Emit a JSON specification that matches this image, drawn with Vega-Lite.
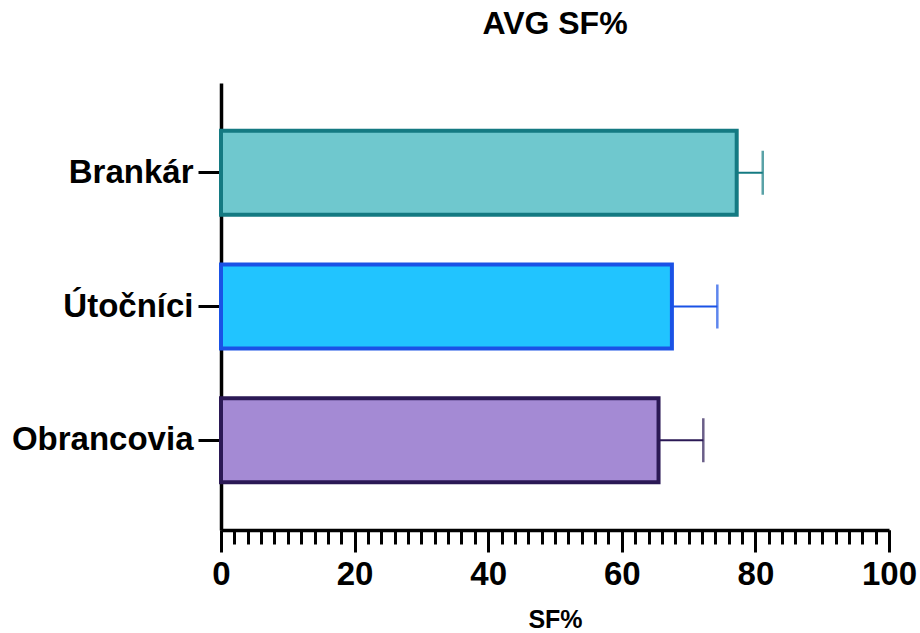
{
  "$schema": "https://vega.github.io/schema/vega-lite/v6.json",
  "width": 668,
  "height": 447,
  "autosize": "none",
  "padding": {"left": 221, "top": 83, "right": 31, "bottom": 103},
  "background": "white",
  "config": {
    "view": {"stroke": null},
    "font": "Liberation Sans",
    "axisX": {
      "titleFont": "Liberation Sans", "titleFontSize": 25, "titleFontWeight": "bold", "titleColor": "black", "titlePadding": 16,
      "labelOverlap": false, "labelFlush": false, "tickWidth": 3, "tickColor": "black", "domainColor": "black", "domainWidth": 3.5,
      "labelFont": "Liberation Sans", "labelFontSize": 33, "labelFontWeight": "bold", "labelColor": "black", "labelPadding": 6, "grid": false
    }
  },
  "title": {"text": "AVG SF%", "font": "Liberation Sans", "fontSize": 32, "fontWeight": "bold", "anchor": "middle", "color": "black", "offset": 42},
  "data": {"values": [
    {"position": "Brankár", "sf": 77.2, "upper": 81.1},
    {"position": "Útočníci", "sf": 67.5, "upper": 74.3},
    {"position": "Obrancovia", "sf": 65.5, "upper": 72.2}
  ]},
  "resolve": {"axis": {"x": "independent"}},
  "encoding": {
    "y": {
      "field": "position", "type": "nominal",
      "sort": ["Brankár", "Útočníci", "Obrancovia"],
      "scale": {"paddingInner": 0.372, "paddingOuter": 0.357},
      "axis": {
        "title": null, "domainColor": "black", "domainWidth": 3.5, "tickColor": "black", "tickWidth": 3, "tickSize": 23, "labelLimit": 400,
        "labelFont": "Liberation Sans", "labelFontSize": 33, "labelFontWeight": "bold", "labelColor": "black", "labelPadding": 5, "grid": false
      }
    }
  },
  "layer": [
    {
      "mark": {"type": "bar", "strokeWidth": 4},
      "encoding": {
        "x": {
          "field": "sf", "type": "quantitative",
          "scale": {"domain": [0, 100], "nice": false},
          "axis": {
            "orient": "bottom", "title": null, "labels": false, "tickSize": 14,
            "values": [0,2,4,6,8,10,12,14,16,18,20,22,24,26,28,30,32,34,36,38,40,42,44,46,48,50,52,54,56,58,60,62,64,66,68,70,72,74,76,78,80,82,84,86,88,90,92,94,96,98,100]
          }
        },
        "fill": {"field": "position", "type": "nominal", "legend": null,
          "scale": {"domain": ["Brankár", "Útočníci", "Obrancovia"], "range": ["#6fc8ce", "#21c4ff", "#a48ad4"]}},
        "stroke": {"field": "position", "type": "nominal", "legend": null,
          "scale": {"domain": ["Brankár", "Útočníci", "Obrancovia"], "range": ["#147a82", "#1a52e6", "#2b1955"]}}
      }
    },
    {
      "mark": {"type": "rule", "strokeWidth": 2},
      "encoding": {
        "x": {"field": "sf", "type": "quantitative",
          "axis": {"orient": "bottom", "title": "SF%", "tickSize": 22, "domain": false, "values": [0, 20, 40, 60, 80, 100]}},
        "x2": {"field": "upper"},
        "color": {"field": "position", "type": "nominal", "legend": null,
          "scale": {"domain": ["Brankár", "Útočníci", "Obrancovia"], "range": ["#147a82", "#1a52e6", "#2b1955"]}}
      }
    },
    {
      "mark": {"type": "tick", "orient": "vertical", "thickness": 2.5, "size": 44},
      "encoding": {
        "x": {"field": "upper", "type": "quantitative", "axis": null},
        "color": {"field": "position", "type": "nominal", "legend": null,
          "scale": {"domain": ["Brankár", "Útočníci", "Obrancovia"], "range": ["#147a82", "#1a52e6", "#2b1955"]}}
      }
    }
  ]
}
